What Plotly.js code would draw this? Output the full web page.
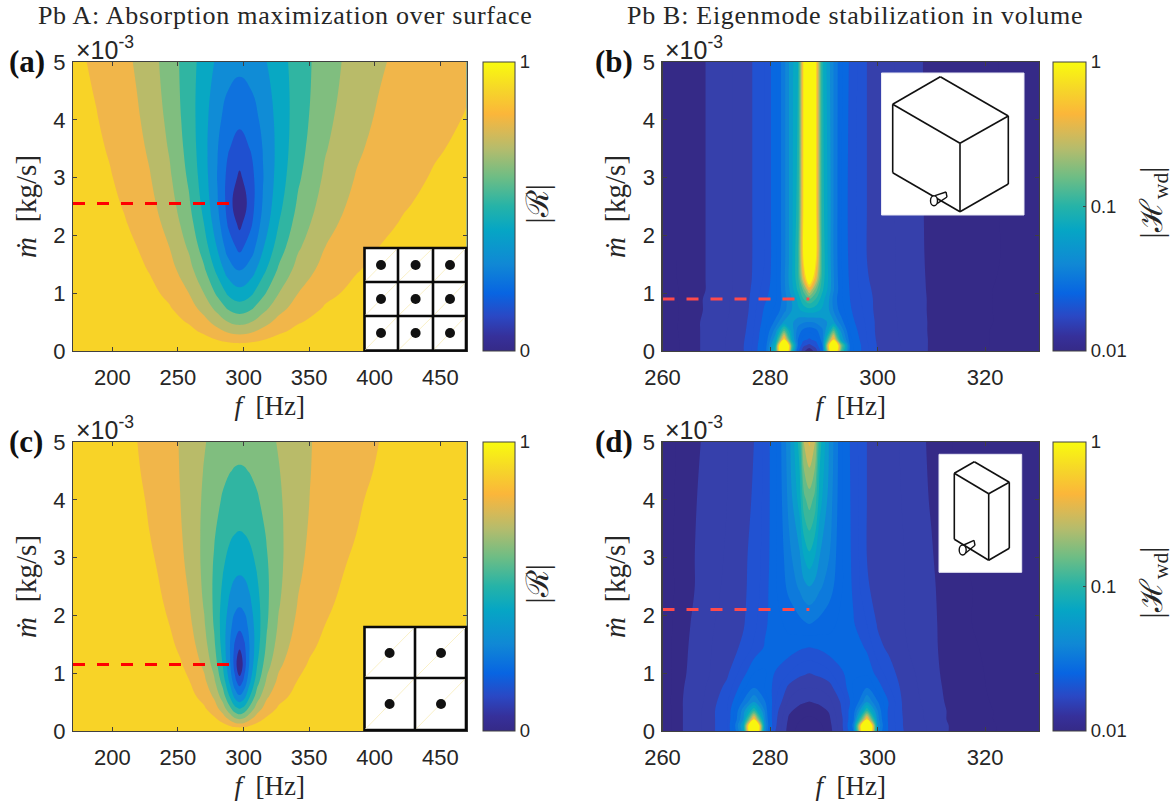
<!DOCTYPE html>
<html><head><meta charset="utf-8">
<script src="https://cdn.plot.ly/plotly-3.0.1.min.js"></script>
<style>html,body{margin:0;padding:0;background:#fff}</style></head>
<body><div id="chart" style="width:1173px;height:806px"></div>
<script>
// ---------- Panel (a): |R|, 3x3 grid ----------
const aFreq=[170,187.7,198,209.2,218.4,228.5,243.4,258.3,270,280.2,288.3,297,305.9,314.8,326.7,341.6,362.3,386.1,403.9,421.7,445.5,470];
const aFlow=[0,.1,.2,.35,.5,.75,1,1.4,1.8,2.2,2.55,3,3.5,4,4.5,5];
const aZ=[
[1,1,1,1,1,1,1,1,1,1,1,1,1,1,1,1,1,1,1,1,1,1],
[.998,.997,.9965,.995,.994,.992,.987,.977,.964,.946,.932,.924,.932,.946,.964,.977,.987,.992,.994,.995,.9965,.997],
[.996,.995,.993,.991,.988,.984,.974,.955,.929,.895,.868,.855,.868,.895,.929,.955,.974,.984,.988,.991,.993,.995],
[.994,.991,.988,.984,.979,.972,.955,.923,.879,.824,.780,.759,.780,.824,.879,.923,.955,.972,.979,.984,.988,.991],
[.991,.987,.983,.977,.971,.960,.936,.892,.832,.759,.700,.672,.700,.759,.832,.892,.936,.960,.971,.977,.983,.987],
[.987,.980,.974,.966,.956,.941,.907,.844,.761,.662,.583,.545,.583,.662,.761,.844,.907,.941,.956,.966,.974,.980],
[.982,.973,.966,.954,.942,.923,.879,.800,.698,.578,.483,.437,.483,.578,.698,.800,.879,.923,.942,.954,.966,.973],
[.975,.963,.953,.938,.921,.895,.837,.738,.614,.470,.352,.291,.352,.470,.614,.738,.837,.895,.921,.938,.953,.963],
[.968,.953,.940,.921,.901,.870,.800,.686,.548,.390,.254,.172,.254,.390,.548,.686,.800,.870,.901,.921,.940,.953],
[.962,.943,.928,.906,.882,.846,.768,.644,.498,.336,.188,.073,.188,.336,.498,.644,.768,.846,.882,.906,.928,.943],
[.956,.935,.918,.893,.866,.827,.743,.614,.468,.308,.162,0,.162,.308,.468,.614,.743,.827,.866,.893,.918,.935],
[.949,.925,.906,.878,.848,.806,.717,.585,.444,.295,.169,.081,.169,.295,.444,.585,.717,.806,.848,.878,.906,.925],
[.941,.914,.893,.862,.830,.785,.693,.564,.432,.304,.207,.157,.207,.304,.432,.564,.693,.785,.830,.862,.893,.914],
[.934,.904,.881,.848,.814,.768,.675,.552,.433,.325,.254,.221,.254,.325,.433,.552,.675,.768,.814,.848,.881,.904],
[.927,.895,.870,.836,.801,.753,.662,.547,.441,.353,.299,.277,.299,.353,.441,.547,.662,.753,.801,.836,.870,.895],
[.920,.886,.860,.825,.789,.742,.654,.547,.455,.382,.341,.324,.341,.382,.455,.547,.654,.742,.789,.825,.860,.886]];

// ---------- Panel (c): |R|, 2x2 grid ----------
const cFreq=[170,204.8,225,233.9,243.4,251.7,258.3,270,277.6,284.2,289.8,293.5,297,300.6,304.4,310.4,317.8,326.7,341.6,350.5,362.3,377.2,392,430.6,470];
const cFlow=[0,.08,.15,.25,.4,.6,.85,1.15,1.45,1.8,2.2,2.8,3.4,4,4.5,5];
const cZ=[
[1,1,1,1,1,1,1,1,1,1,1,1,1,1,1,1,1,1,1,1,1,1,1,1,1],
[1,.999,.997,.997,.995,.993,.990,.981,.967,.942,.906,.881,.870,.881,.906,.942,.967,.981,.990,.993,.995,.997,.997,.999,.999],
[.999,.997,.995,.994,.991,.987,.982,.964,.938,.893,.831,.787,.769,.787,.831,.893,.938,.964,.982,.987,.991,.994,.995,.997,.998],
[.998,.996,.992,.989,.985,.978,.970,.941,.900,.830,.735,.670,.643,.670,.735,.830,.900,.941,.970,.978,.985,.989,.992,.996,.997],
[.997,.993,.987,.983,.976,.966,.953,.909,.847,.745,.613,.522,.484,.522,.613,.745,.847,.909,.953,.966,.976,.983,.987,.993,.995],
[.996,.989,.981,.975,.964,.949,.931,.868,.784,.651,.485,.367,.314,.367,.485,.651,.784,.868,.931,.949,.964,.975,.981,.989,.993],
[.994,.985,.973,.964,.950,.929,.905,.823,.719,.564,.374,.229,.150,.229,.374,.564,.719,.823,.905,.929,.950,.964,.973,.985,.990],
[.991,.980,.965,.953,.933,.908,.877,.779,.661,.497,.306,.153,0,.153,.306,.497,.661,.779,.877,.908,.933,.953,.965,.980,.987],
[.989,.975,.956,.942,.918,.888,.852,.743,.621,.463,.295,.178,.116,.178,.295,.463,.621,.743,.852,.888,.918,.942,.956,.975,.984],
[.987,.970,.946,.929,.902,.867,.827,.713,.594,.454,.323,.249,.220,.249,.323,.454,.594,.713,.827,.867,.902,.929,.946,.970,.980],
[.984,.963,.936,.917,.886,.848,.805,.691,.583,.468,.374,.329,.314,.329,.374,.468,.583,.691,.805,.848,.886,.917,.936,.963,.976],
[.980,.955,.922,.900,.866,.825,.782,.676,.588,.507,.450,.426,.418,.426,.450,.507,.588,.676,.782,.825,.866,.900,.922,.955,.970],
[.976,.946,.910,.886,.850,.810,.769,.677,.608,.550,.514,.499,.494,.499,.514,.550,.608,.677,.769,.810,.850,.886,.910,.946,.964],
[.972,.939,.900,.875,.839,.801,.763,.685,.632,.591,.566,.556,.553,.556,.566,.591,.632,.685,.763,.801,.839,.875,.900,.939,.959],
[.969,.933,.893,.868,.833,.797,.763,.695,.652,.620,.602,.595,.593,.595,.602,.620,.652,.695,.763,.797,.833,.868,.893,.933,.955],
[.966,.929,.888,.863,.829,.795,.765,.707,.672,.647,.633,.628,.626,.628,.633,.647,.672,.707,.765,.795,.829,.863,.888,.929,.951]];

// ---------- Panel (b): log10 |Hwd|, large volume ----------
const bFreq=[260,267,274,276,279,281,282.6,284,285.2,286.2,287.3,288.5,289.7,291,291.8,293.2,295,298,300,309,330];
const bFlow=[0,.1,.2,.35,.5,.7,.9,1.05,1.25,1.6,2.5,5];
const bZ=[
[-1.98,-1.8,-1.65,-1.56,-1.27,-.75,.7,-.7,-1.35,-1.75,-1.95,-1.7,-1.3,-.2,.4,-.6,-1.27,-1.47,-1.61,-1.797,-1.99],
[-1.98,-1.8,-1.65,-1.56,-1.28,-.8,.8,-.6,-1.2,-1.55,-1.65,-1.5,-1.2,-.1,.5,-.5,-1.26,-1.48,-1.61,-1.797,-1.98],
[-1.98,-1.8,-1.65,-1.57,-1.3,-.92,-.1,-.85,-1.2,-1.35,-1.42,-1.35,-1.15,-.5,-.15,-.9,-1.28,-1.5,-1.62,-1.797,-1.98],
[-1.97,-1.8,-1.66,-1.58,-1.32,-1.05,-.6,-.93,-1.15,-1.23,-1.27,-1.23,-1.12,-.85,-.6,-1.02,-1.32,-1.51,-1.63,-1.798,-1.98],
[-1.97,-1.8,-1.66,-1.59,-1.35,-1.17,-.98,-.98,-1.05,-1.09,-1.1,-1.08,-1.04,-.98,-.98,-1.15,-1.36,-1.52,-1.63,-1.798,-1.97],
[-1.97,-1.81,-1.67,-1.6,-1.38,-1.27,-1.13,-1.0,-.92,-.88,-.85,-.87,-.92,-1.0,-1.1,-1.25,-1.39,-1.54,-1.64,-1.799,-1.97],
[-1.96,-1.81,-1.67,-1.61,-1.42,-1.32,-1.15,-1.0,-.87,-.7,-.6,-.7,-.85,-1.0,-1.13,-1.28,-1.41,-1.55,-1.64,-1.799,-1.97],
[-1.96,-1.82,-1.68,-1.62,-1.45,-1.33,-1.13,-.95,-.78,-.58,-.3,-.56,-.78,-.95,-1.09,-1.27,-1.42,-1.57,-1.64,-1.8,-1.97],
[-1.95,-1.82,-1.68,-1.63,-1.48,-1.33,-1.12,-.92,-.72,-.3,.1,-.28,-.74,-.93,-1.09,-1.28,-1.43,-1.59,-1.64,-1.802,-1.96],
[-1.95,-1.82,-1.68,-1.63,-1.5,-1.33,-1.13,-.93,-.7,-.1,.3,-.08,-.72,-.95,-1.1,-1.29,-1.44,-1.6,-1.64,-1.805,-1.95],
[-1.95,-1.82,-1.68,-1.63,-1.5,-1.33,-1.13,-.93,-.75,-.1,.3,-.08,-.75,-.95,-1.1,-1.29,-1.45,-1.6,-1.64,-1.808,-1.95],
[-1.95,-1.82,-1.68,-1.63,-1.5,-1.33,-1.13,-.93,-.8,-.1,.3,-.08,-.77,-.98,-1.1,-1.28,-1.43,-1.6,-1.64,-1.811,-1.95]];

// ---------- Panel (d): log10 |Hwd|, tall volume ----------
const dFreq=[260,264,268,272,275,277,279,281,283.5,285.5,286.3,287.3,288.3,289.2,291,293.5,295.5,298,300,302,305,310,314,330];
const dFlow=[0,.1,.2,.35,.5,.75,1,1.45,1.85,2.5,3,4,5];
const dZ=[
[-1.98,-1.79,-1.68,-1.5,-.95,.7,-1.05,-1.6,-1.85,-1.94,-1.95,-1.96,-1.95,-1.94,-1.85,-1.62,-1.2,.7,-1.05,-1.41,-1.61,-1.72,-1.82,-1.98],
[-1.98,-1.79,-1.68,-1.5,-.9,.7,-1.0,-1.58,-1.84,-1.92,-1.94,-1.95,-1.94,-1.92,-1.84,-1.6,-1.15,.7,-1.0,-1.41,-1.62,-1.72,-1.82,-1.98],
[-1.98,-1.79,-1.68,-1.5,-1.0,-.12,-1.05,-1.57,-1.82,-1.89,-1.91,-1.92,-1.91,-1.89,-1.82,-1.6,-1.22,-.12,-1.05,-1.42,-1.62,-1.73,-1.83,-1.98],
[-1.98,-1.79,-1.68,-1.5,-1.05,-.7,-1.1,-1.55,-1.78,-1.84,-1.86,-1.87,-1.86,-1.84,-1.79,-1.58,-1.25,-.7,-1.1,-1.42,-1.63,-1.73,-1.83,-1.98],
[-1.97,-1.79,-1.69,-1.52,-1.18,-1.0,-1.18,-1.5,-1.72,-1.78,-1.79,-1.805,-1.79,-1.78,-1.73,-1.57,-1.32,-1.0,-1.19,-1.4,-1.64,-1.74,-1.84,-1.98],
[-1.97,-1.8,-1.7,-1.57,-1.33,-1.2,-1.3,-1.45,-1.63,-1.69,-1.695,-1.7,-1.695,-1.69,-1.65,-1.47,-1.28,-1.2,-1.34,-1.48,-1.65,-1.75,-1.85,-1.98],
[-1.97,-1.81,-1.72,-1.62,-1.44,-1.3,-1.28,-1.41,-1.5,-1.57,-1.585,-1.6,-1.585,-1.57,-1.52,-1.41,-1.32,-1.32,-1.44,-1.55,-1.66,-1.76,-1.86,-1.97],
[-1.96,-1.82,-1.72,-1.65,-1.58,-1.48,-1.39,-1.33,-1.34,-1.38,-1.39,-1.4,-1.39,-1.38,-1.34,-1.32,-1.33,-1.42,-1.57,-1.62,-1.69,-1.77,-1.87,-1.97],
[-1.96,-1.83,-1.73,-1.66,-1.61,-1.53,-1.42,-1.34,-1.27,-1.23,-1.215,-1.2,-1.215,-1.23,-1.27,-1.33,-1.39,-1.5,-1.61,-1.65,-1.7,-1.77,-1.88,-1.97],
[-1.96,-1.85,-1.75,-1.68,-1.62,-1.56,-1.45,-1.31,-1.17,-1.08,-1.03,-1.0,-1.03,-1.08,-1.15,-1.3,-1.42,-1.59,-1.63,-1.66,-1.7,-1.78,-1.88,-1.97],
[-1.95,-1.85,-1.75,-1.69,-1.62,-1.57,-1.46,-1.32,-1.13,-1.02,-.9,-.83,-.9,-1.0,-1.1,-1.3,-1.43,-1.6,-1.63,-1.66,-1.7,-1.79,-1.89,-1.97],
[-1.95,-1.86,-1.76,-1.7,-1.63,-1.59,-1.47,-1.32,-1.07,-.85,-.63,-.55,-.63,-.85,-1.04,-1.3,-1.44,-1.6,-1.63,-1.66,-1.71,-1.81,-1.9,-1.97],
[-1.95,-1.87,-1.78,-1.7,-1.63,-1.6,-1.47,-1.32,-1.04,-.75,-.38,-.28,-.38,-.75,-1.01,-1.3,-1.45,-1.6,-1.63,-1.66,-1.72,-1.82,-1.9,-1.97]];

// ---------- Optimum flow rates (dashed lines) ----------
const aOpt={f:[170,292],m:[2.55,2.55]};
const bOpt={f:[260,287.3],m:[.9,.9]};
const cOpt={f:[170,292],m:[1.15,1.15]};
const dOpt={f:[260,287.3],m:[2.1,2.1]};

// ---------- Colours ----------
const barScale=[[0,'#352A87'],[.05,'#36309A'],[.12,'#2A48C4'],[.2,'#0865E2'],[.3,'#1088D5'],[.42,'#06A6C4'],
 [.5,'#25B3A8'],[.6,'#6DBD85'],[.7,'#B5BC6C'],[.76,'#D9B955'],[.82,'#FBB63A'],[.9,'#F6D42A'],[1,'#F9FB0E']];
const linBands=['#35298C','#1F50D0','#0F72DE','#108CD6','#08A8C3','#30B5A2','#80BE7F','#B9BB69','#F1B64A','#F8D327'];
const logBands=['#352A87','#352A87','#3640AB','#3640AB','#2152D2','#2152D2','#0868E0','#0868E0','#0D7ADC','#1088D6',
 '#0A9CCC','#06A9C2','#1BB3AE','#3AB79A','#66BB88','#95BD72','#CBBB5E','#F5B53F','#F8D32A','#F9F50E'];
const stepScale=c=>c.map((v,i)=>[i/(c.length-1),v]);

const W=1173,H=806;
const fx=x=>x/W, fy=y=>1-y/H;
const ink='#262626', axisCol='#404040';
const serif='"Liberation Serif","DejaVu Serif",serif', sans='"Liberation Sans",Arial,sans-serif';

const panels=[
 {id:'',  f:aFreq,m:aFlow,z:aZ,opt:aOpt,kind:'lin',px:[73,466.5], py:[62,351], cb:483, ticks:[200,250,300,350,400,450],range:[170,470],dash:'#FF0000',label:'(a)',lx:7},
 {id:'2', f:bFreq,m:bFlow,z:bZ,opt:bOpt,kind:'log',px:[662.5,1039],py:[62,351], cb:1053,ticks:[260,280,300,320],range:[260,330],dash:'#FF4A4A',label:'(b)',lx:593},
 {id:'3', f:cFreq,m:cFlow,z:cZ,opt:cOpt,kind:'lin',px:[73,466.5], py:[442,731],cb:483, ticks:[200,250,300,350,400,450],range:[170,470],dash:'#FF0000',label:'(c)',lx:7},
 {id:'4', f:dFreq,m:dFlow,z:dZ,opt:dOpt,kind:'log',px:[662.5,1039],py:[442,731],cb:1053,ticks:[260,280,300,320],range:[260,330],dash:'#FF4A4A',label:'(d)',lx:593}
];

const traces=[];
const layout={width:W,height:H,margin:{l:0,r:0,t:0,b:0},paper_bgcolor:'#fff',plot_bgcolor:'#fff',showlegend:false,
 font:{family:sans,color:ink},annotations:[],shapes:[]};

panels.forEach(p=>{
 const lin=p.kind==='lin';
 const xa='x'+p.id, ya='y'+p.id;
 const ymid=(p.py[0]+p.py[1])/2;
 traces.push({type:'heatmap',xaxis:xa,yaxis:ya,x:p.f,y:p.m,z:p.z,colorscale:barScale,
  zmin:lin?0:-2,zmax:lin?1:0,hoverinfo:'skip',showscale:true,
  colorbar:{x:fx(p.cb),xanchor:'left',xpad:0,ypad:0,y:fy(ymid),yanchor:'middle',len:(p.py[1]-p.py[0])/H,lenmode:'fraction',
   thickness:lin?32:33,thicknessmode:'pixels',outlinecolor:axisCol,outlinewidth:1,ticks:'inside',ticklen:3,tickcolor:axisCol,
   tickmode:'array',tickvals:lin?[0,1]:[-2,-1,0],ticktext:lin?['0','1']:['0.01','0.1','1'],
   tickfont:{family:sans,size:18.5,color:ink}}});
 traces.push({type:'contour',xaxis:xa,yaxis:ya,x:p.f,y:p.m,z:p.z,showscale:false,autocontour:false,
  colorscale:stepScale(lin?linBands:logBands),
  contours:lin?{start:.1,end:.9,size:.1,coloring:'fill',showlines:false}:{start:-1.9,end:-.1,size:.1,coloring:'fill',showlines:false},
  line:{width:0,smoothing:lin?1.3:1},hoverinfo:'skip'});
 traces.push({type:'scatter',mode:'lines',xaxis:xa,yaxis:ya,x:p.opt.f,y:p.opt.m,
  line:{color:p.dash,width:3,dash:'12px,12px'},hoverinfo:'skip'});

 const common={showgrid:false,zeroline:false,showline:true,linecolor:axisCol,linewidth:1.2,mirror:'allticks',ticks:'inside',ticklen:4,tickcolor:axisCol,
  tickfont:{family:sans,size:22,color:ink}};
 layout['xaxis'+p.id]=Object.assign({},common,{domain:[fx(p.px[0]),fx(p.px[1])],range:p.range,anchor:ya,tickmode:'array',tickvals:p.ticks,
  ticklabelstandoff:6,title:{text:'<i>f</i>  [Hz]',font:{family:serif,size:27,color:ink},standoff:7}});
 layout['yaxis'+p.id]=Object.assign({},common,{domain:[fy(p.py[1]),fy(p.py[0])],range:[0,5],anchor:xa,tickmode:'array',tickvals:[0,1,2,3,4,5],
  ticklabelstandoff:2,title:{text:'<i>ṁ</i>  [kg/s]',font:{family:serif,size:29,color:ink},standoff:8}});

 layout.annotations.push({xref:'paper',yref:'paper',x:fx(p.lx),y:fy(p.py[0]),xanchor:'left',yanchor:'middle',showarrow:false,
  text:'<b>'+p.label+'</b>',font:{family:serif,size:31,color:'#111'}});
 layout.annotations.push({xref:'paper',yref:'paper',x:fx(p.px[0]+1),y:fy(p.py[0]-14),xanchor:'left',yanchor:'middle',showarrow:false,
  text:'×10<sup>-3</sup>',font:{family:sans,size:25,color:ink}});
 layout.annotations.push({xref:'paper',yref:'paper',x:fx(lin?537:1153),y:fy(ymid-(lin?2:4)),xanchor:'center',yanchor:'middle',showarrow:false,textangle:-90,
  text:lin?'|ℛ|':'|ℋ<sub>wd</sub>|',font:{family:serif,size:31,color:ink}});
});

// column titles
const columnTitles=[['Pb A: Absorption maximization over surface',284.5,'0.72px'],['Pb B: Eigenmode stabilization in volume',854.5,'0.72px']];
columnTitles.forEach(t=>{
 layout.annotations.push({xref:'paper',yref:'paper',x:fx(t[1]),y:fy(15),xanchor:'center',yanchor:'middle',showarrow:false,
  text:t[0],font:{family:serif,size:26,color:ink}});
});

// ---------- Insets ----------
const P=(x0,y0,x1,y1,extra)=>Object.assign({type:'line',xref:'paper',yref:'paper',x0:fx(x0),y0:fy(y0),x1:fx(x1),y1:fy(y1),line:{color:'#111',width:1.6}},extra||{});
const box=(x0,y0,x1,y1,lw,lc)=>({type:'rect',xref:'paper',yref:'paper',x0:fx(x0),y0:fy(y0),x1:fx(x1),y1:fy(y1),fillcolor:'#fff',line:{color:lc,width:lw}});
const disc=(cx,cy,rx,ry,fill,lw)=>({type:'circle',xref:'paper',yref:'paper',x0:fx(cx-rx),x1:fx(cx+rx),y0:fy(cy-ry),y1:fy(cy+ry),fillcolor:fill,line:{color:'#111',width:lw}});
function gridInset(xs,ys,cx,cy){
 const s=layout.shapes;
 s.push(box(xs[0],ys[0],xs[xs.length-1],ys[ys.length-1],2.6,'#0a0a0a'));
 for(let i=0;i<xs.length-1;i++)for(let j=0;j<ys.length-1;j++)
  s.push(P(xs[i]+1,ys[j+1]-1,xs[i+1]-1,ys[j]+1,{line:{color:'#FAF1C8',width:1}}));
 xs.slice(1,-1).forEach(x=>s.push(P(x,ys[0],x,ys[ys.length-1],{line:{color:'#0a0a0a',width:2.6}})));
 ys.slice(1,-1).forEach(y=>s.push(P(xs[0],y,xs[xs.length-1],y,{line:{color:'#0a0a0a',width:2.6}})));
 cx.forEach(x=>cy.forEach(y=>s.push(disc(x,y,5,5,'#111',0))));
}
gridInset([364.5,398,433,466],[248,282,316,350.5],[381,415.6,450],[265,299,333]);
gridInset([364.5,415,466],[627,678,730],[389.6,441],[653,704]);

function boxInset(r,c,noz){
 const s=layout.shapes;
 s.push(box(r[0],r[1],r[2],r[3],1,'#E8E8F4'));
 [[c.apex,c.left],[c.apex,c.right],[c.left,c.mid],[c.right,c.mid],[c.left,c.lb],[c.mid,c.bot],[c.right,c.rb],[c.lb,c.bot],[c.bot,c.rb]]
  .forEach(e=>s.push(P(e[0][0],e[0][1],e[1][0],e[1][1])));
 s.push(P(noz[0]+1,noz[1]-5,noz[2],noz[3]-3,{line:{color:'#111',width:1.4}}));
 s.push(P(noz[0]+3,noz[1]+3,noz[2]+1,noz[3]+2,{line:{color:'#111',width:1.4}}));
 s.push(P(noz[2],noz[3]-3,noz[2]+1,noz[3]+2,{line:{color:'#111',width:1.4}}));
 s.push(disc(noz[0],noz[1],3.5,5,'#fff',1.4));
}
boxInset([881.5,73,1024,215],{apex:[940.3,76.7],left:[892.7,104.3],right:[1008.3,116],mid:[960,143.3],lb:[892.7,172.7],bot:[960,211.7],rb:[1008.3,184]},[934,200.7,946,195]);
boxInset([939,454.3,1021.7,572.3],{apex:[974.3,461.7],left:[954.3,473.3],right:[1009.3,482.3],mid:[988.7,493.7],lb:[954.3,539.3],bot:[988.7,560.3],rb:[1009.3,548.3]},[962.7,550,974,543.3]);

Plotly.newPlot('chart',traces,layout,{displayModeBar:false,staticPlot:true}).then(()=>{
 document.querySelectorAll('.annotation-text').forEach(el=>{
  columnTitles.forEach(t=>{ if(el.textContent===t[0]) el.style.letterSpacing=t[2]; });
 });
});
</script></body></html>
